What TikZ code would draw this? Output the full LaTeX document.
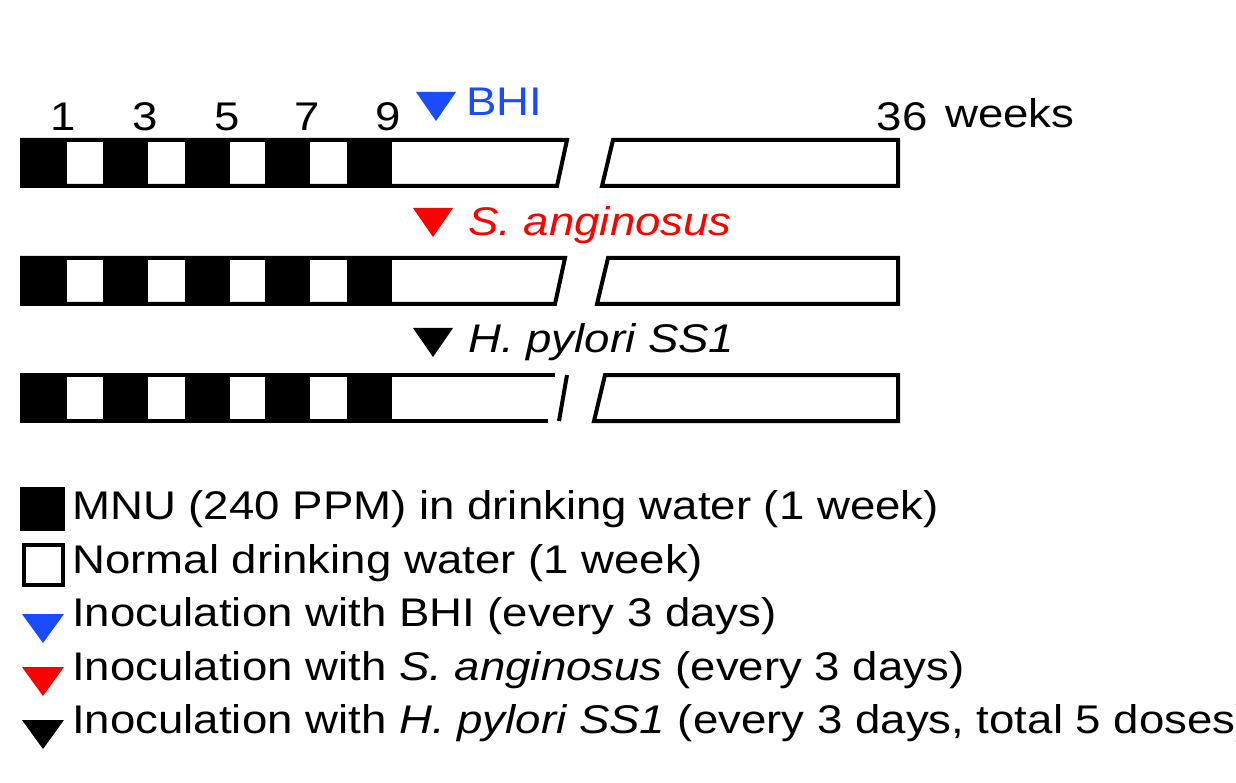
\documentclass[tikz,border=0pt]{standalone}
\usepackage{fontspec}
\setmainfont[FakeStretch=1.14]{Liberation Sans}
\usetikzlibrary{positioning}
\definecolor{BhiBlue}{HTML}{1A4BFF}
\definecolor{SaRed}{HTML}{FF0000}
\newcommand{\txtsize}{\fontsize{40}{46}\selectfont}

\begin{document}
\begin{tikzpicture}[x=1pt, y=-1pt,
    bar/.style={line width=4pt, fill=white},
    mnu/.style={fill=black},
    lbl/.style={font=\txtsize, inner sep=0pt, anchor=west}
]
    \useasboundingbox (0,0) rectangle (1236,783);
    \clip (0,0) rectangle (1236,783);

    % three timelines
    \foreach \y/\a/\b/\c/\d in {140/567/557/613/602, 258/565/555/608/597} {
        \draw[bar] (22,\y) -- (\a,\y) -- (\b,\y+46) -- (22,\y+46) -- cycle;
        \draw[bar] (\c,\y) -- (898,\y) -- (898,\y+46) -- (\d,\y+46) -- cycle;
        \foreach \x in {22,103,185,265,347}
            \fill[mnu] (\x,\y) rectangle (\x+45,\y+46);
    }
    \draw[line width=4pt] (555,375) -- (22,375) -- (22,421) -- (548,421);
    \draw[line width=4pt] (567,375) -- (559,421);
    \draw[bar] (605,375) -- (898,375) -- (898,421) -- (594,421) -- cycle;
    \foreach \x in {22,103,185,265,347}
        \fill[mnu] (\x,375) rectangle (\x+45,421);

    % week numbers
    \foreach \x/\w in {63/1, 145/3, 227/5, 307/7, 388/9, 902/36}
        \node[font=\txtsize, inner sep=0pt] (wk\w) at (\x,117) {\w};
    \node[lbl] (weeks) at (945,113) {weeks};

    % inoculation markers
    \fill[BhiBlue] (416,92) -- (456,92) -- (436,121) -- cycle;
    \node[lbl, text=BhiBlue] (bhi) at (466,102) {BHI};
    \fill[SaRed] (413,208) -- (453,208) -- (433,237) -- cycle;
    \node[lbl, text=SaRed] (sa) at (468,225) {\itshape S. anginosus};
    \fill[black] (413,328) -- (453,328) -- (433,357) -- cycle;
    \node[lbl] (hp) at (468,342) {\itshape H. pylori SS1};

    % legend
    \fill[black] (20,487) rectangle (65,531);
    \draw[line width=3.5pt] (24,545) rectangle (63,585);
    \fill[BhiBlue] (22,614) -- (64,614) -- (43,643) -- cycle;
    \fill[SaRed] (22,667) -- (64,667) -- (43,696) -- cycle;
    \fill[black] (22,720) -- (64,720) -- (43,749) -- cycle;
    \node[lbl] (lmnu) at (72,509) {MNU (240 PPM) in drinking water (1 week)};
    \node[lbl] (lnorm) at (72,563) {Normal drinking water (1 week)};
    \node[lbl] (lbhi) at (72,616) {Inoculation with BHI (every 3 days)};
    \node[lbl] (lsa) at (72,670) {Inoculation with \textit{S. anginosus} (every 3 days)};
    \node[lbl] (lhp) at (72,723) {Inoculation with \textit{H. pylori SS1} (every 3 days, total 5 doses)};
\end{tikzpicture}
\end{document}
